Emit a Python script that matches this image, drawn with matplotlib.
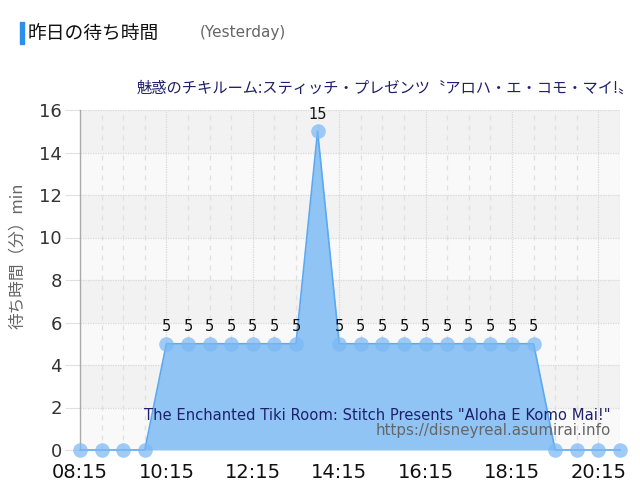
import matplotlib
matplotlib.use('Agg')
import matplotlib.pyplot as plt
from matplotlib.patches import Rectangle

# 昨日の待ち時間 (30分ごと)
times = ["08:15", "08:45", "09:15", "09:45", "10:15", "10:45", "11:15", "11:45",
         "12:15", "12:45", "13:15", "13:45", "14:15", "14:45", "15:15", "15:45",
         "16:15", "16:45", "17:15", "17:45", "18:15", "18:45", "19:15", "19:45",
         "20:15", "20:45"]
waits = [0, 0, 0, 0, 5, 5, 5, 5, 5, 5, 5, 15, 5, 5, 5, 5,
         5, 5, 5, 5, 5, 5, 0, 0, 0, 0]
tick_labels = ["08:15", "10:15", "12:15", "14:15", "16:15", "18:15", "20:15"]

title_ja = "昨日の待ち時間"
title_en = "(Yesterday)"
attraction_ja = "魅惑のチキルーム:スティッチ・プレゼンツ〝アロハ・エ・コモ・マイ!〟"
attraction_en = 'The Enchanted Tiki Room: Stitch Presents "Aloha E Komo Mai!"'
site_url = "https://disneyreal.asumirai.info"


def to_hours(s):
    h, m = s.split(":")
    return int(h) + int(m) / 60.0


x = [to_hours(t) for t in times]
xt = [to_hours(t) for t in tick_labels]

plt.rcParams['font.family'] = ['DejaVu Sans', 'Noto Sans CJK JP']
JP = ['Noto Sans CJK JP', 'DejaVu Sans']

fig = plt.figure(figsize=(6.4, 5.0), dpi=100)
ax = fig.add_axes([80 / 640, 50 / 500, 540 / 640, 340 / 500])

# 背景の縞模様
for lo in range(0, 16, 2):
    ax.axhspan(lo, lo + 2, color='#f9f9f9' if (lo // 2) % 2 == 0 else '#f2f2f2', zorder=0, lw=0)

# グリッド
for yv in range(2, 17, 2):
    ax.axhline(yv, color='#d8d8d8', lw=0.9, ls=(0, (1, 1)), zorder=1)
for xv in x[1:]:
    if xv in xt:
        ax.axvline(xv, color='#d8d8d8', lw=0.9, ls=(0, (1, 1)), zorder=1)
    else:
        ax.axvline(xv, color='#e0e0e0', lw=0.9, ls=(0, (4, 4)), zorder=1)

ax.fill_between(x, waits, 0, color='#90c4f4', alpha=1.0, zorder=2, lw=0)
ax.plot(x, waits, color='#5aa9f2', lw=1.2, zorder=3, clip_on=False)
ax.plot(x, waits, 'o', ms=10.5, mec='none', mfc='#7ab8f5', alpha=0.72, zorder=4, clip_on=False)

for xv, w in zip(x, waits):
    if w > 0:
        ax.annotate(str(w), (xv, w), xytext=(0, 7), textcoords='offset points',
                    ha='center', va='bottom', fontsize=10.5, color='#111111', zorder=5)

ax.set_xlim(x[0], x[-1])
ax.set_ylim(0, 16)
ax.set_yticks(range(0, 17, 2))
ax.set_xticks(xt)
ax.set_xticklabels(tick_labels)
ax.tick_params(axis='y', labelsize=13, labelcolor='#333333', length=11, color='#e0e0e0', pad=2)
ax.tick_params(axis='x', labelsize=14, labelcolor='#111111', length=0, pad=9)

for side in ['top', 'right', 'bottom']:
    ax.spines[side].set_visible(False)
ax.spines['left'].set_color('#aaaaaa')
ax.spines['left'].set_linewidth(1.0)

ax.set_ylabel("待ち時間（分）min", family=JP, fontsize=12, color='#666666')
ax.yaxis.set_label_coords((26 - 80) / 540, 0.57)

# タイトル
fig.patches.append(Rectangle((20 / 640, 1 - 44 / 500), 4 / 640, 22 / 500,
                             transform=fig.transFigure, color='#2b8ff0', zorder=5))
fig.text(28 / 640, 1 - 33 / 500, title_ja, family=JP, fontsize=13.5, color='#111111', va='center')
fig.text(200 / 640, 1 - 32 / 500, title_en, fontsize=11, color='#666666', va='center')

fig.text(634 / 640, 1 - 88 / 500, attraction_ja, family=JP, fontsize=11,
         color='#1f1f6b', ha='right', va='center')

ax.text((611 - 80) / 540, (500 - 415 - 50) / 340, attraction_en,
        transform=ax.transAxes, fontsize=10.6,
        color='#1f1f6b', ha='right', va='center', zorder=6)
ax.text((611 - 80) / 540, (500 - 431 - 50) / 340, site_url, transform=ax.transAxes,
        fontsize=10.8, color='#666666', ha='right', va='center', zorder=6)

fig.savefig('out.png', dpi=100)
plt.close(fig)
